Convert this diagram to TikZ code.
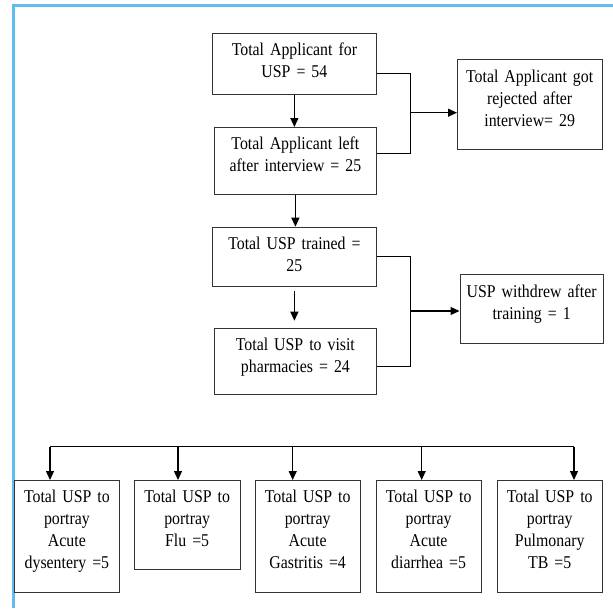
\documentclass[tikz,border=0pt]{standalone}
\usepackage{fontspec}
\setmainfont{Liberation Serif}[FakeStretch=0.88,WordSpace=0.8]
\usetikzlibrary {arrows.meta}
\definecolor{frameblue}{RGB}{95,190,238}

\tikzset{
	box/.style n args={2}{draw=black!80,line width=0.8pt,anchor=north west,inner sep=0pt,
		align=center,text width=#1pt,text height=22.5pt,text depth=#2pt,
		font=\fontsize{18}{22}\selectfont},
	arr/.style={line width=1.2pt,-{Triangle[length=9pt,width=8pt]}},
	link/.style={line width=1.2pt}
}

\begin{document}
\begin{tikzpicture}[x=1pt,y=-1pt]
			\useasboundingbox (0,0) rectangle (613,608);
			\draw[frameblue,line width=2.2pt] (613,5.5) -- (13.5,5.5) -- (13.5,608);
			\node[box={164}{39}] (appl) at (212,32.7) {Total Applicant for\\USP = 54};
			\node[box={162}{44.5}] (left) at (214,127) {Total Applicant left\\after interview = 25};
			\node[box={144.5}{67.5}] (rej) at (457,59.3) {Total Applicant got\\rejected after\\interview= 29};
			\node[box={164}{37}] (trained) at (212,226.7) {Total USP trained =\\25};
			\node[box={162}{44}] (visit) at (214,327.7) {Total USP to visit\\pharmacies = 24};
			\node[box={143.5}{46.5}] (withdrew) at (459.5,274.3) {USP withdrew after\\training = 1};
			\node[box={105}{89.2}] (b1) at (14,480) {Total USP to\\portray\\Acute\\dysentery =5};
			\node[box={105.5}{66.5}] (b2) at (134,480) {Total USP to\\portray\\Flu =5};
			\node[box={104.5}{89.2}] (b3) at (255,480) {Total USP to\\portray\\Acute\\Gastritis =4};
			\node[box={105}{89.2}] (b4) at (375.7,480) {Total USP to\\portray\\Acute\\diarrhea =5};
			\node[box={104.7}{89.5}] (b5) at (497,480) {Total USP to\\portray\\Pulmonary\\TB =5};
			\coordinate (j1) at (410.5,112.7);
			\coordinate (j2) at (410.5,311);
			\coordinate (t1) at (50,446.7);
			\coordinate (t2) at (178,446.7);
			\coordinate (t3) at (292.7,446.7);
			\coordinate (t4) at (421.7,446.7);
			\coordinate (t5) at (574,446.7);
			\draw[arr] (appl.south) -- (appl.south |- left.north);
			\draw[arr] (left.south) -- (left.south |- trained.north);
			\draw[arr,shorten <=4pt,shorten >=7pt] (trained.south) -- (trained.south |- visit.north);
			\draw[link] ([yshift=-9.5pt]appl.east) -| (j1) |- ([yshift=7.5pt]left.east);
			\draw[arr] (j1) -- (j1 -| rej.west);
			\draw[link] (trained.east) -| (j2) |- ([yshift=-5pt]visit.east);
			\draw[arr] (j2) -- (j2 -| withdrew.west);
			\draw[link] (t1) -- (t5);
			\foreach \i in {1,...,5}
				\draw[arr] (t\i) -- (t\i |- b\i.north);
		\end{tikzpicture}
\end{document}
